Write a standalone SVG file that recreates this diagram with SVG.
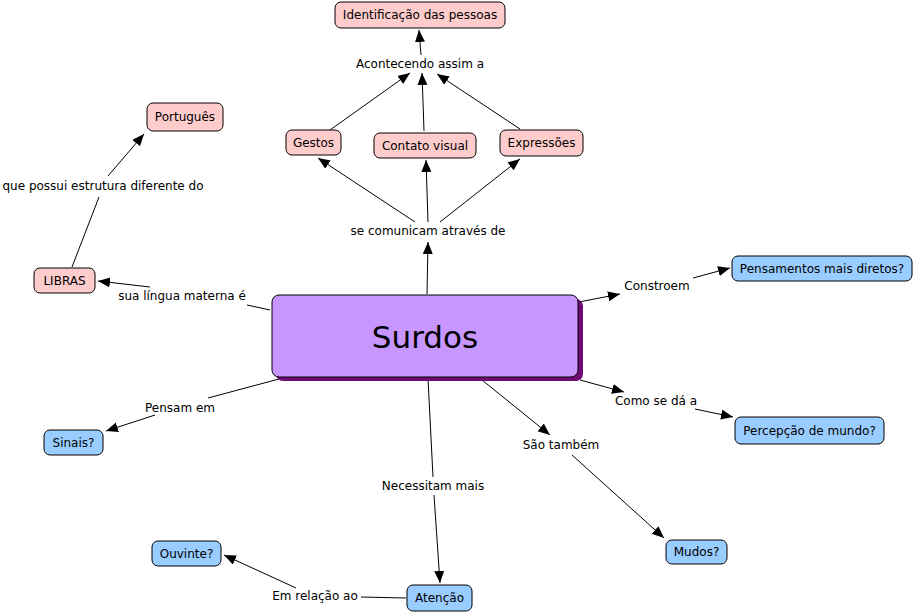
<svg xmlns="http://www.w3.org/2000/svg" width="914" height="615" viewBox="0 0 914 615">
<style>
.pink{fill:#ffcccc;stroke:#000;stroke-width:1}
.blue{fill:#99ccff;stroke:#000;stroke-width:1}
text{font-family:"DejaVu Sans","Liberation Sans",sans-serif;font-size:12px;fill:#000;text-anchor:middle;dominant-baseline:central}
.c line{stroke:#000;stroke-width:1}
.c line.a{marker-end:url(#arr)}
</style>
<defs>
<marker id="arr" markerUnits="userSpaceOnUse" markerWidth="13" markerHeight="11" refX="12" refY="5" orient="auto" viewBox="0 0 13 11">
<path d="M0,0 L12,5 L0,10 z" fill="#000"/>
</marker>
</defs>
<rect width="914" height="615" fill="#fff"/>
<g class="c" id="connectors">
<line class="a" x1="427" y1="294" x2="428" y2="242"/>
<line class="a" x1="415" y1="222" x2="318" y2="158"/>
<line class="a" x1="428" y1="222" x2="426" y2="160"/>
<line class="a" x1="440" y1="222" x2="520" y2="159"/>
<line class="a" x1="330" y1="130" x2="410" y2="73"/>
<line class="a" x1="424" y1="131" x2="422" y2="73"/>
<line class="a" x1="520" y1="129" x2="437" y2="74"/>
<line class="a" x1="421" y1="55" x2="419" y2="30"/>
<line x1="270" y1="310" x2="247" y2="305"/>
<line class="a" x1="150" y1="287" x2="98" y2="281"/>
<line x1="72" y1="267" x2="99" y2="197"/>
<line class="a" x1="108" y1="176" x2="144" y2="134"/>
<line class="a" x1="579" y1="302" x2="620" y2="294"/>
<line class="a" x1="693" y1="278" x2="730" y2="268"/>
<line class="a" x1="580" y1="380" x2="624" y2="392"/>
<line class="a" x1="695" y1="409" x2="733" y2="417"/>
<line class="a" x1="482" y1="380" x2="550" y2="435"/>
<line class="a" x1="572" y1="455" x2="664" y2="538"/>
<line x1="428" y1="379" x2="433" y2="477"/>
<line class="a" x1="434" y1="495" x2="440" y2="583"/>
<line x1="279" y1="379" x2="208" y2="398"/>
<line class="a" x1="155" y1="415" x2="106" y2="431"/>
<line x1="406" y1="598" x2="361" y2="597"/>
<line class="a" x1="296" y1="588" x2="224" y2="555"/>
</g>
<g id="surdos">
<rect x="276" y="299" width="307" height="82" rx="7" fill="#6e0a73"/>
<rect x="272" y="295" width="306" height="82" rx="7" fill="#c896ff" stroke="#000" stroke-width="1"/>
<text x="425" y="337" style="font-size:31px">Surdos</text>
</g>
<g id="identificacao"><rect class="pink" x="335" y="2" width="170" height="26" rx="6"/><text x="420" y="15">Identificação das pessoas</text></g>
<g id="gestos"><rect class="pink" x="286" y="130" width="55" height="25" rx="6"/><text x="313.5" y="142.5">Gestos</text></g>
<g id="contato"><rect class="pink" x="374" y="133" width="102" height="25" rx="6"/><text x="425" y="145.5">Contato visual</text></g>
<g id="expressoes"><rect class="pink" x="500" y="130" width="83" height="26" rx="6"/><text x="541.5" y="143">Expressões</text></g>
<g id="portugues"><rect class="pink" x="147" y="103" width="76" height="28" rx="6"/><text x="185" y="117">Português</text></g>
<g id="libras"><rect class="pink" x="34" y="268" width="61" height="25" rx="6"/><text x="64.5" y="280.5">LIBRAS</text></g>
<g id="pensamentos"><rect class="blue" x="732" y="256" width="180" height="25" rx="6"/><text x="822" y="268.5">Pensamentos mais diretos?</text></g>
<g id="percepcao"><rect class="blue" x="735" y="417" width="149" height="27" rx="6"/><text x="809.5" y="430.5">Percepção de mundo?</text></g>
<g id="sinais"><rect class="blue" x="44" y="430" width="59" height="25" rx="6"/><text x="73.5" y="442.5">Sinais?</text></g>
<g id="ouvinte"><rect class="blue" x="152" y="541" width="69" height="25" rx="6"/><text x="186.5" y="553.5">Ouvinte?</text></g>
<g id="atencao"><rect class="blue" x="407" y="585" width="65" height="26" rx="6"/><text x="439.5" y="598">Atenção</text></g>
<g id="mudos"><rect class="blue" x="666" y="540" width="61" height="24" rx="6"/><text x="696.5" y="552">Mudos?</text></g>
<g id="labels">
<text x="420" y="64">Acontecendo assim a</text>
<text x="428" y="231">se comunicam através de</text>
<text x="103" y="186">que possui estrutura diferente do</text>
<text x="182" y="296">sua língua materna é</text>
<text x="657" y="286">Constroem</text>
<text x="656" y="401">Como se dá a</text>
<text x="561" y="445">São também</text>
<text x="433" y="486">Necessitam mais</text>
<text x="180" y="408">Pensam em</text>
<text x="315" y="596">Em relação ao</text>
</g>
</svg>
